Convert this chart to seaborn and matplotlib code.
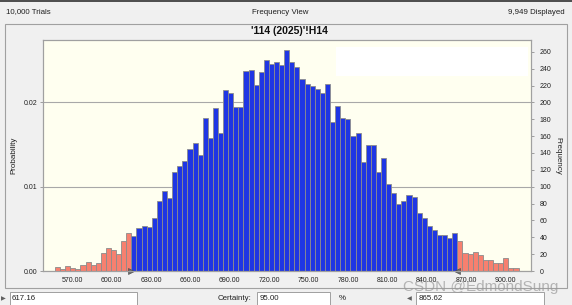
import numpy as np
import pandas as pd
import matplotlib
matplotlib.use("Agg")
import matplotlib.pyplot as plt
from matplotlib.patches import Rectangle
import seaborn as sns

# ---------------- data ----------------
trials = 10000
displayed = 9949
chart_title = "'114 (2025)'!H14"
view_name = "Frequency View"
counts = [5, 2, 6, 4, 2, 7, 11, 7, 9, 21, 27, 25, 20, 35, 45,
          41, 51, 53, 52, 63, 83, 95, 87, 117, 124, 130, 145, 152, 138, 182,
          158, 193, 164, 215, 211, 195, 195, 237, 239, 221, 236, 250, 245, 248, 244,
          262, 248, 242, 228, 222, 220, 216, 211, 222, 177, 196, 181, 180, 160, 164,
          129, 149, 150, 117, 134, 103, 93, 79, 83, 90, 88, 69, 63, 53, 49,
          43, 43, 39, 45, 35, 21, 20, 23, 19, 13, 13, 10, 9, 15, 3, 3]
bin_start = 556.8
bin_width = 3.88
n_left_tail = 15
n_right_tail = 12
certainty = 95.00
lower_value = 617.16
upper_value = 865.62
x_ticks = [570, 600, 630, 660, 690, 720, 750, 780, 810, 840, 870, 900]
freq_ticks = [0, 20, 40, 60, 80, 100, 120, 140, 160, 180, 200, 220, 240, 260]
prob_ticks = [0.00, 0.01, 0.02]

# ---------------- style ----------------
sns.set_style("white")
plt.rcParams['font.family'] = ['Liberation Sans', 'DejaVu Sans']

BLUE = "#1f36e4"
SALMON = "#f7806f"
CREAM = "#fffff0"
BG = "#f0f0f0"
GRID = "#a8a8a8"
EDGE = "#8c8c8c"
TXT = "#202020"

W, H = 572, 305
fig = plt.figure(figsize=(W / 100, H / 100), dpi=100, facecolor=BG)


def fx(x):
    return x / W


def fy(y):
    return 1 - y / H


ax_l, ax_r, ax_t, ax_b = 43.3, 531, 40, 271
ax = fig.add_axes([fx(ax_l), fy(ax_b), (ax_r - ax_l) / W, (ax_b - ax_t) / H])
ax.set_facecolor(CREAM)

n = len(counts)
edges = [bin_start + bin_width * i for i in range(n + 1)]
centers = [e + bin_width / 2 for e in edges[:-1]]
zones = ["tail" if (i < n_left_tail or i >= n - n_right_tail) else "mid" for i in range(n)]
df = pd.DataFrame({"center": centers, "count": counts, "zone": zones})

sns.histplot(data=df, x="center", weights="count", bins=edges, hue="zone",
             hue_order=["mid", "tail"], palette={"mid": BLUE, "tail": SALMON},
             alpha=1, edgecolor=EDGE, linewidth=0.6, legend=False, ax=ax)

ax.set_xlim(547.9, 919.4)
ax.set_ylim(0, 274)
ax.set_axisbelow(True)
ax.yaxis.grid(True, color=GRID, lw=0.8)
ax.xaxis.grid(False)

ax.set_xticks(x_ticks)
ax.set_xticklabels([f"{v:.2f}" for v in x_ticks])
ax.set_yticks([p * trials for p in prob_ticks])
ax.set_yticklabels([f"{p:.2f}" for p in prob_ticks])
ax.tick_params(axis="x", length=2.2, width=0.6, color="#909090", pad=2, labelsize=5, labelcolor=TXT)
ax.tick_params(axis="y", length=2.2, width=0.6, color="#909090", pad=2, labelsize=5, labelcolor=TXT)
ax.set_xlabel("")
ax.set_ylabel("Probability", fontsize=5.8, color=TXT, va="center")
ax.yaxis.set_label_coords(-0.0605, 0.5)
for s in ax.spines.values():
    s.set_color("#a0a0a0")
    s.set_linewidth(0.8)
    s.set_visible(True)

# empty white box in upper right of the plot
ax.add_patch(Rectangle((0.600, 0.845), 0.394, 0.125, transform=ax.transAxes,
                       facecolor="white", edgecolor="none", zorder=0.6))

ax2 = ax.twinx()
ax2.set_ylim(ax.get_ylim())
ax2.set_yticks(freq_ticks)
ax2.set_yticklabels([str(v) for v in freq_ticks])
ax2.tick_params(axis="y", length=2.2, width=0.6, color="#909090", pad=4, labelsize=5, labelcolor=TXT)
ax2.set_ylabel("Frequency", rotation=270, fontsize=5.8, color=TXT, va="center")
ax2.yaxis.set_label_coords(1.0554, 0.5)
for s in ax2.spines.values():
    s.set_color("#a0a0a0")
    s.set_linewidth(0.8)

# certainty grabbers at the tail boundaries
ax.plot([edges[n_left_tail]], [0], marker=">", ms=5, color="#707070", mec="#404040",
        mew=0.4, clip_on=False, zorder=6, ls="none")
ax.plot([edges[n - n_right_tail]], [0], marker="<", ms=5, color="#707070", mec="#404040",
        mew=0.4, clip_on=False, zorder=6, ls="none")

# ---------------- frame / texts ----------------
fig.add_artist(Rectangle((0, fy(2)), 1, 2 / H, transform=fig.transFigure,
                         facecolor="#505050", edgecolor="none"))
fig.add_artist(Rectangle((fx(5), fy(288)), (567 - 5) / W, (288 - 23.5) / H,
                         transform=fig.transFigure, fill=False, edgecolor="#a0a0a0", lw=0.8))

fig.text(fx(5.5), fy(12), f"{trials:,} Trials", ha="left", va="center", fontsize=5.7, color=TXT)
fig.text(fx(280), fy(12), view_name, ha="center", va="center", fontsize=5.7, color=TXT)
fig.text(fx(565), fy(12), f"{displayed:,} Displayed", ha="right", va="center", fontsize=5.7, color=TXT)
fig.text(fx(289), fy(31), chart_title, ha="center", va="center", fontsize=7.5,
         fontweight="bold", color="#101010")

# bottom certainty bar
box_y0, box_y1 = 292.3, 305
for x0, x1 in [(10, 137.3), (256.7, 330), (416, 544)]:
    fig.add_artist(Rectangle((fx(x0), fy(box_y1)), (x1 - x0) / W, (box_y1 - box_y0) / H,
                             transform=fig.transFigure, facecolor="white",
                             edgecolor="#a0a0a0", lw=0.7))
fig.text(fx(3.5), fy(299), "\u25B6", ha="center", va="center", fontsize=4.5, color="#606060",
         family=["DejaVu Sans"])
fig.text(fx(12), fy(299), f"{lower_value:.2f}", ha="left", va="center", fontsize=5.7, color=TXT)
fig.text(fx(218), fy(299), "Certainty:", ha="left", va="center", fontsize=5.7, color=TXT)
fig.text(fx(260), fy(299), f"{certainty:.2f}", ha="left", va="center", fontsize=5.7, color=TXT)
fig.text(fx(339), fy(299), "%", ha="left", va="center", fontsize=5.7, color=TXT)
fig.text(fx(409.5), fy(299), "\u25C0", ha="center", va="center", fontsize=4.5, color="#606060",
         family=["DejaVu Sans"])
fig.text(fx(419), fy(299), f"{upper_value:.2f}", ha="left", va="center", fontsize=5.7, color=TXT)

# watermark
fig.text(fx(403), fy(287), "CSDN @EdmondSung", ha="left", va="center", fontsize=11,
         color="#9a9a9a", alpha=0.7)

fig.savefig("out.png", dpi=100, facecolor=BG)
